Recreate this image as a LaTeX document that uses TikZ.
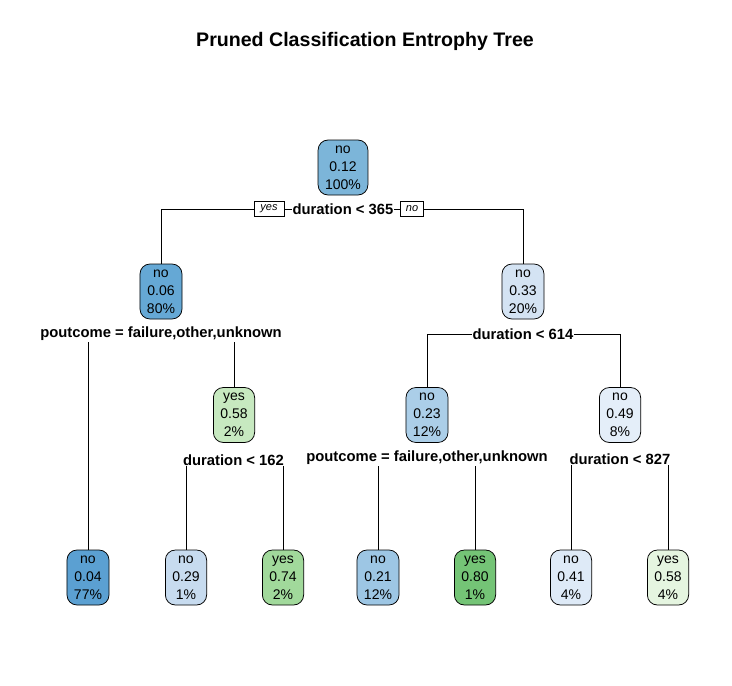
\documentclass[tikz,border=0pt]{standalone}
\usepackage{fontspec}
\setmainfont{Liberation Sans}
\usetikzlibrary{backgrounds}

\definecolor{bluea}{RGB}{91,160,210}
\definecolor{blueb}{RGB}{101,168,213}
\definecolor{bluec}{RGB}{124,181,217}
\definecolor{blued}{RGB}{157,198,228}
\definecolor{bluee}{RGB}{171,206,232}
\definecolor{bluef}{RGB}{199,219,239}
\definecolor{blueg}{RGB}{212,227,243}
\definecolor{blueh}{RGB}{222,234,247}
\definecolor{bluei}{RGB}{228,238,249}
\definecolor{greena}{RGB}{116,196,118}
\definecolor{greenb}{RGB}{161,217,155}
\definecolor{greenc}{RGB}{199,233,192}
\definecolor{greend}{RGB}{229,245,224}

\begin{document}
\begin{tikzpicture}[x=1pt,y=-1pt,line width=0.75pt,
	leaf/.style={draw=black,rounded corners=10pt,minimum width=40pt,minimum height=55pt,
		inner xsep=7pt,inner ysep=0pt,align=center,font=\fontsize{14}{18}\selectfont},
	split/.style={fill=white,inner sep=1pt,font=\fontsize{14.8}{17}\selectfont\bfseries},
	tag/.style={draw=black,fill=white,line width=0.6pt,inner xsep=3pt,inner ysep=1pt,
		minimum width=30pt,minimum height=15pt,font=\fontsize{11}{12}\selectfont\itshape}]
	
	\useasboundingbox (0,0) rectangle (732,686);
	
	\node[font=\fontsize{19.6}{22}\selectfont\bfseries] (title) at (365,41) {Pruned Classification Entrophy Tree};
	
	% inner nodes
	\node[leaf,fill=bluec] (n1) at (343,167.5) {no\\0.12\\100\%};
	\node[leaf,fill=blueb] (n2) at (161,291.5) {no\\0.06\\80\%};
	\node[leaf,fill=blueg] (n3) at (523,291.5) {no\\0.33\\20\%};
	\node[leaf,fill=greenc] (n4) at (234,415) {yes\\0.58\\2\%};
	\node[leaf,fill=bluee] (n5) at (427,415) {no\\0.23\\12\%};
	\node[leaf,fill=bluei] (n6) at (620,415) {no\\0.49\\8\%};
	
	% leaves
	\node[leaf,fill=bluea] (l1) at (88,577.5) {no\\0.04\\77\%};
	\node[leaf,fill=bluef] (l2) at (186,577.5) {no\\0.29\\1\%};
	\node[leaf,fill=greenb] (l3) at (283,577.5) {yes\\0.74\\2\%};
	\node[leaf,fill=blued] (l4) at (378,577.5) {no\\0.21\\12\%};
	\node[leaf,fill=greena] (l5) at (475,577.5) {yes\\0.80\\1\%};
	\node[leaf,fill=blueh] (l6) at (571,577.5) {no\\0.41\\4\%};
	\node[leaf,fill=greend] (l7) at (668,577.5) {yes\\0.58\\4\%};
	
	% split labels
	\node[split] (s1) at (343,209) {duration < 365};
	\node[split] (s2) at (161,334) {poutcome = failure,other,unknown};
	\node[split] (s3) at (523,334) {duration < 614};
	\node[split] (s4) at (233.5,460) {duration < 162};
	\node[split] (s5) at (427,458) {poutcome = failure,other,unknown};
	\node[split] (s6) at (620,459) {duration < 827};
	
	\node[tag,minimum width=30pt] (yes) at (269,208.5) {yes};
	\node[tag,minimum width=23pt] (no) at (412,208.5) {no};
	
	\begin{pgfonlayer}{background}
		\draw (s1.center) -| (n2.north);
		\draw (s1.center) -| (n3.north);
		\draw (s2.center) -| (l1.north);
		\draw (s2.center) -| (n4.north);
		\draw (s3.center) -| (n5.north);
		\draw (s3.center) -| (n6.north);
		\draw (s4.center) -| (l2.north);
		\draw (s4.center) -| (l3.north);
		\draw (s5.center) -| (l4.north);
		\draw (s5.center) -| (l5.north);
		\draw (s6.center) -| (l6.north);
		\draw (s6.center) -| (l7.north);
	\end{pgfonlayer}
	
\end{tikzpicture}
\end{document}
